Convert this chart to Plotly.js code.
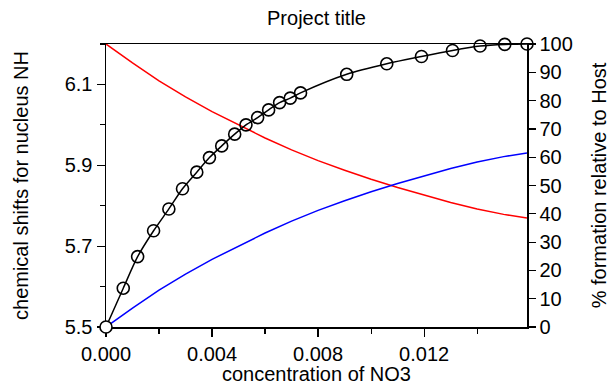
<!DOCTYPE html>
<html>
<head>
<meta charset="utf-8">
<script src="https://cdn.plot.ly/plotly-3.0.1.min.js"></script>
<style>
  html, body { margin: 0; padding: 0; background: #fff; }
  #chart { width: 611px; height: 385px; }
</style>
</head>
<body>
<div id="chart"></div>
<script>
// Titration data: guest concentration vs observed NH chemical shift
const concNO3 = [0, 0.000651, 0.001193, 0.001795, 0.002371, 0.002886, 0.003424, 0.003902,
  0.004365, 0.004854, 0.005280, 0.005720, 0.006134, 0.006548, 0.006950, 0.007338,
  0.009080, 0.010590, 0.011900, 0.013070, 0.014110, 0.015040, 0.015880];
const shiftNH = [5.500, 5.596, 5.674, 5.738, 5.792, 5.842, 5.883, 5.919,
  5.948, 5.977, 6.000, 6.018, 6.037, 6.055, 6.066, 6.079,
  6.125, 6.151, 6.169, 6.184, 6.195, 6.199, 6.200];

// Species distribution (% relative to host)
const concSpecies = [0, 0.001, 0.002, 0.003, 0.004, 0.005, 0.006, 0.007, 0.008,
  0.009, 0.010, 0.011, 0.012, 0.013, 0.014, 0.015, 0.01588];
const freeHost = [100, 93.3, 87.0, 81.3, 76.1, 71.3, 66.8, 62.6, 58.8,
  55.4, 52.2, 49.3, 46.6, 44.0, 41.7, 39.8, 38.5];
const complexHG = [0, 6.7, 13.0, 18.7, 23.9, 28.7, 33.2, 37.4, 41.2,
  44.6, 47.8, 50.7, 53.4, 56.0, 58.3, 60.2, 61.5];

const font = { family: 'Liberation Sans, Arial, sans-serif', size: 20, color: '#000' };

// first point drawn filled white so it sits cleanly on the axis corner
const markerFill = concNO3.map((_, i) => i === 0 ? '#ffffff' : 'rgba(0,0,0,0)');

const traces = [
  {
    x: concSpecies, y: freeHost, yaxis: 'y', mode: 'lines',
    line: { color: '#ff0000', width: 1.5 }, hoverinfo: 'skip'
  },
  {
    x: concSpecies, y: complexHG, yaxis: 'y', mode: 'lines',
    line: { color: '#0000ff', width: 1.5 }, hoverinfo: 'skip'
  },
  {
    x: concNO3, y: shiftNH, yaxis: 'y2', mode: 'lines+markers',
    line: { color: '#000', width: 1.5, shape: 'spline', smoothing: 0.8 },
    marker: { symbol: 'circle', size: 12, color: markerFill, line: { color: '#000', width: 1.6 } },
    cliponaxis: false
  }
];

const layout = {
  width: 611, height: 385,
  margin: { l: 106, r: 84, t: 44, b: 58 },
  paper_bgcolor: '#fff', plot_bgcolor: '#fff',
  showlegend: false,
  font: font,
  title: { text: 'Project title', font: font, x: 0.518, xanchor: 'center', y: 0.952, yanchor: 'middle' },
  xaxis: {
    range: [0, 0.01588], tick0: 0, dtick: 0.004, tickformat: '.3f',
    ticks: 'outside', ticklen: 8, tickwidth: 1.2, tickcolor: '#000',
    minor: { dtick: 0.002, ticks: 'outside', ticklen: 5, tickwidth: 1.2, tickcolor: '#000' },
    showline: true, linecolor: '#000', linewidth: 1.5, mirror: true,
    showgrid: false, zeroline: false, layer: 'below traces',
    tickfont: font,
    title: { text: 'concentration of NO3', font: font, standoff: 2 }
  },
  yaxis: {
    side: 'right', range: [0, 100], tick0: 0, dtick: 10,
    ticks: 'outside', ticklen: 7, tickwidth: 1.2, tickcolor: '#000',
    showline: true, linecolor: '#000', linewidth: 1.5,
    showgrid: false, zeroline: false, layer: 'below traces',
    tickfont: font,
    title: { text: '% formation relative to Host', font: font, standoff: 20 }
  },
  yaxis2: {
    side: 'left', overlaying: 'y', range: [5.5, 6.2], tick0: 5.5, dtick: 0.2, tickformat: '.1f',
    ticks: 'outside', ticklen: 8, tickwidth: 1.2, tickcolor: '#000',
    minor: { dtick: 0.1, ticks: 'outside', ticklen: 5, tickwidth: 1.2, tickcolor: '#000' },
    showline: true, linecolor: '#000', linewidth: 1.5,
    showgrid: false, zeroline: false, layer: 'below traces',
    tickfont: font,
    title: { text: 'chemical shifts for nucleus NH', font: font, standoff: 30 }
  }
};

Plotly.newPlot('chart', traces, layout, { displayModeBar: false, staticPlot: true });
</script>
</body>
</html>
